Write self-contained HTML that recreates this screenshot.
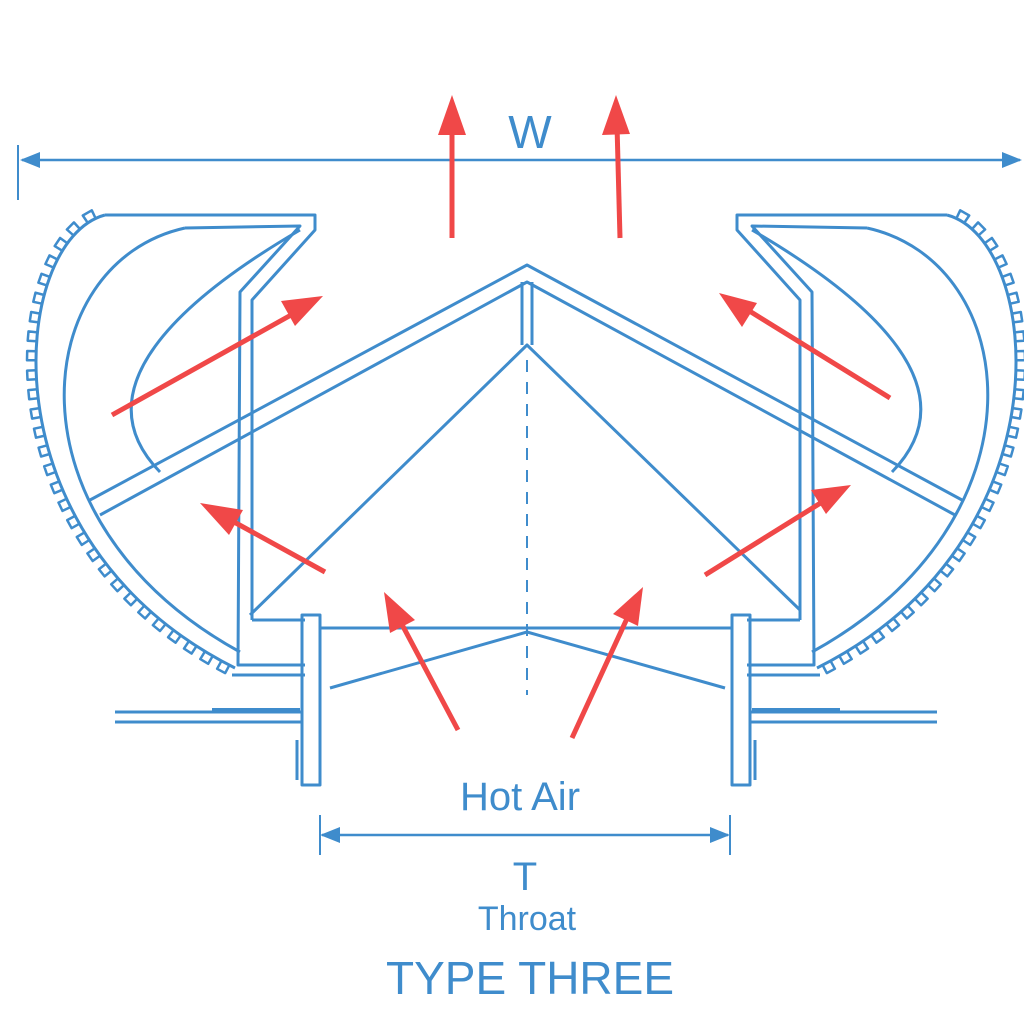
<!DOCTYPE html>
<html><head><meta charset="utf-8"><style>
html,body{margin:0;padding:0;background:#fff;}
svg{display:block}
text{font-family:"Liberation Sans",sans-serif;fill:#3f8ccc}
</style></head><body>
<svg id="s" width="1024" height="1024" viewBox="0 0 1024 1024" xmlns="http://www.w3.org/2000/svg">
<defs>
<marker id="ab" viewBox="0 0 10 10" refX="9" refY="5" markerWidth="8" markerHeight="8" orient="auto-start-reverse"><path d="M0,1 L10,5 L0,9 z" fill="#3f8ccc"/></marker>
</defs>
<line x1="18" y1="145" x2="18" y2="200" stroke="#3f8ccc" stroke-width="2"/>
<line x1="22" y1="160" x2="1020" y2="160" stroke="#3f8ccc" stroke-width="2.5" marker-start="url(#ab)" marker-end="url(#ab)"/>
<text x="530" y="148" font-size="46" text-anchor="middle">W</text>

<g class="hood" fill="none" stroke="#3f8ccc" stroke-width="3" stroke-linejoin="round">
  <path class="outer" d="M105,215 C10,240 -20,540 235,668"/>
  <path d="M185,228 C30,262 0,520 240,652"/>
  <path d="M105,215 L315,215 L315,230 L252,300 L252,620"/>
  <path d="M185,228 L300,226 L240,292 L238,665 L305,665"/>
  <path d="M232,675 L305,675"/>
  <path d="M252,620 L305,620"/>
  <path d="M300,230 C180,300 80,390 160,472"/>
  <rect x="302" y="615" width="18" height="170"/>
  <path d="M297,740 L297,780"/>
  <path d="M115,712 L302,712 M115,722 L302,722"/>
  <path d="M212,710 L300,710" stroke-width="4"/>
</g>
<g class="hood" transform="translate(1052,0) scale(-1,1)" fill="none" stroke="#3f8ccc" stroke-width="3" stroke-linejoin="round">
  <path class="outer" d="M105,215 C10,240 -20,540 235,668"/>
  <path d="M185,228 C30,262 0,520 240,652"/>
  <path d="M105,215 L315,215 L315,230 L252,300 L252,620"/>
  <path d="M185,228 L300,226 L240,292 L238,665 L305,665"/>
  <path d="M232,675 L305,675"/>
  <path d="M252,620 L305,620"/>
  <path d="M300,230 C180,300 80,390 160,472"/>
  <rect x="302" y="615" width="18" height="170"/>
  <path d="M297,740 L297,780"/>
  <path d="M115,712 L302,712 M115,722 L302,722"/>
  <path d="M212,710 L300,710" stroke-width="4"/>
</g>

<g fill="none" stroke="#3f8ccc" stroke-width="3" stroke-linejoin="round">
  <path d="M90,500 L527,265 L962,500"/>
  <path d="M100,515 L527,282 L955,515"/>
  <path d="M522,282 L522,345 M532,282 L532,345"/>
  <path d="M250,615 L527,345 L800,610"/>
  <path d="M527,360 L527,695" stroke-width="2" stroke-dasharray="12 10"/>
  <path d="M320,628 L733,628"/>
  <path d="M330,688 L527,632 L725,688"/>
</g>

<g stroke="#f04848" stroke-width="5" fill="#f04848">
  <line x1="452" y1="238" x2="452" y2="125"/><path d="M452,95 L438,135 L466,135 z" stroke="none"/>
  <line x1="620" y1="238" x2="617" y2="125"/><path d="M616,95 L602,135 L630,134 z" stroke="none"/>
  <line x1="112" y1="415" x2="300" y2="310"/><path d="M323,296 L281,301 L295,326 z" stroke="none"/>
  <line x1="325" y1="572" x2="225" y2="517"/><path d="M200,503 L229,535 L243,510 z" stroke="none"/>
  <line x1="458" y1="730" x2="398" y2="617"/><path d="M384,592 L390,633 L415,620 z" stroke="none"/>
  <line x1="572" y1="738" x2="630" y2="612"/><path d="M643,587 L613,614 L638,626 z" stroke="none"/>
  <line x1="890" y1="398" x2="743" y2="307"/><path d="M719,293 L742,327 L757,303 z" stroke="none"/>
  <line x1="705" y1="575" x2="827" y2="499"/><path d="M851,485 L811,490 L826,514 z" stroke="none"/>
</g>

<text x="520" y="810" font-size="40" text-anchor="middle">Hot Air</text>
<line x1="320" y1="815" x2="320" y2="855" stroke="#3f8ccc" stroke-width="2"/>
<line x1="730" y1="815" x2="730" y2="855" stroke="#3f8ccc" stroke-width="2"/>
<line x1="322" y1="835" x2="728" y2="835" stroke="#3f8ccc" stroke-width="2.5" marker-start="url(#ab)" marker-end="url(#ab)"/>
<text x="525" y="890" font-size="40" text-anchor="middle">T</text>
<text x="527" y="930" font-size="34" text-anchor="middle">Throat</text>
<text x="530" y="994" font-size="46" text-anchor="middle">TYPE THREE</text>
</svg>
<script>
document.querySelectorAll('.hood').forEach(function(g){
  var p=g.querySelector('.outer');
  var L=p.getTotalLength(), step=19, w=9, h=9, d='';
  function pt(s){var a=p.getPointAtLength(Math.max(0,Math.min(L,s))),b=p.getPointAtLength(Math.min(L,s+0.5)),c=p.getPointAtLength(Math.max(0,s-0.5));var dx=b.x-c.x,dy=b.y-c.y,m=Math.hypot(dx,dy)||1;return {x:a.x,y:a.y,nx:-dy/m,ny:dx/m};}
  for(var s=10;s+w<L-5;s+=step){
    var A=pt(s),B=pt(s+w);
    d+='M'+A.x.toFixed(1)+','+A.y.toFixed(1)+'L'+(A.x+A.nx*h).toFixed(1)+','+(A.y+A.ny*h).toFixed(1)+'L'+(B.x+B.nx*h).toFixed(1)+','+(B.y+B.ny*h).toFixed(1)+'L'+B.x.toFixed(1)+','+B.y.toFixed(1);
  }
  var t=document.createElementNS('http://www.w3.org/2000/svg','path');
  t.setAttribute('d',d);t.setAttribute('stroke-width','2.5');
  g.appendChild(t);
});
</script>
</body></html>
